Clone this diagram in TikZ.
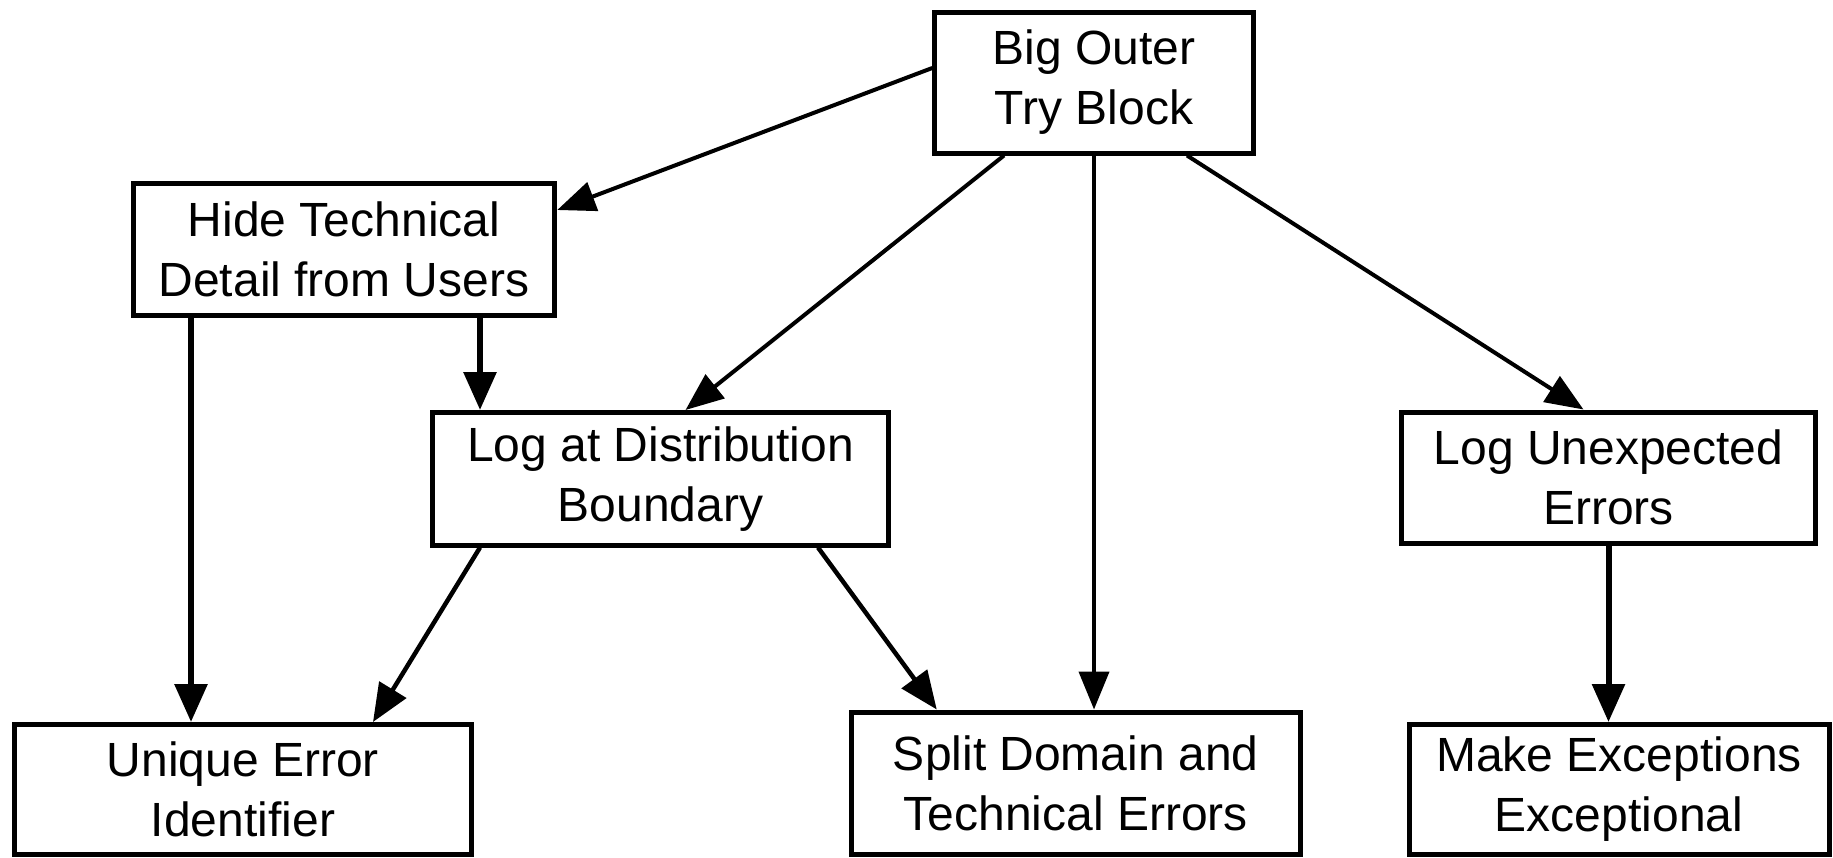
\documentclass[tikz,border=0pt]{standalone}
\usepackage{fontspec}
\setmainfont{Liberation Sans}
\usetikzlibrary{arrows.meta}
\begin{document}
\begin{tikzpicture}[x=1pt,y=-1pt,
  box/.style={draw, line width=5pt, inner sep=0pt, align=center,
    font=\fontsize{48}{60}\selectfont},
  thinarr/.style={line width=4pt, -{Triangle[length=38pt,width=30pt]}},
  midarr/.style={line width=4.5pt, -{Triangle[length=38pt,width=31pt]}},
  thickarr/.style={line width=6pt, -{Triangle[length=38pt,width=32pt]}}]
\useasboundingbox (0,0) rectangle (1833,857);

\node[box, minimum width=318.5pt, minimum height=141pt] (big) at (1094,82.5) {Big Outer\\Try Block};
\node[box, minimum width=421.5pt, minimum height=132pt] (hide) at (344,249.5) {Hide Technical\\Detail from Users};
\node[box, minimum width=456pt, minimum height=132.5pt] (logdist) at (660.5,478.75) {Log at Distribution\\Boundary};
\node[box, minimum width=414pt, minimum height=131.5pt] (logunexp) at (1608.5,477.75) {Log Unexpected\\Errors};
\node[box, minimum width=457pt, minimum height=130pt] (unique) at (243,789.5) {Unique Error\\Identifier};
\node[box, minimum width=449.5pt, minimum height=142.5pt] (split) at (1075.75,783.25) {Split Domain and\\Technical Errors};
\node[box, minimum width=420pt, minimum height=130pt] (make) at (1619,789.5) {Make Exceptions\\Exceptional};

\draw[thinarr] ([yshift=14.5pt]big.west) -- ([yshift=39.5pt]hide.east);
\draw[thinarr] ([xshift=-90pt]big.south) -- ([xshift=25pt]logdist.north);
\draw[thinarr] (big.south) -- (big.south |- split.north);
\draw[thinarr] ([xshift=93pt]big.south) -- ([xshift=-25pt]logunexp.north);

\draw[thickarr] ([xshift=-153pt]hide.south) -- ([xshift=-52pt]unique.north);
\draw[thickarr] ([xshift=136pt]hide.south) -- ([xshift=-180.5pt]logdist.north);

\draw[midarr] ([xshift=-180.5pt]logdist.south) -- ([xshift=130pt]unique.north);
\draw[midarr] ([xshift=157.5pt]logdist.south) -- ([xshift=-139pt]split.north);

\draw[thickarr] (logunexp.south) -- ([xshift=-10.5pt]make.north);
\end{tikzpicture}
\end{document}
